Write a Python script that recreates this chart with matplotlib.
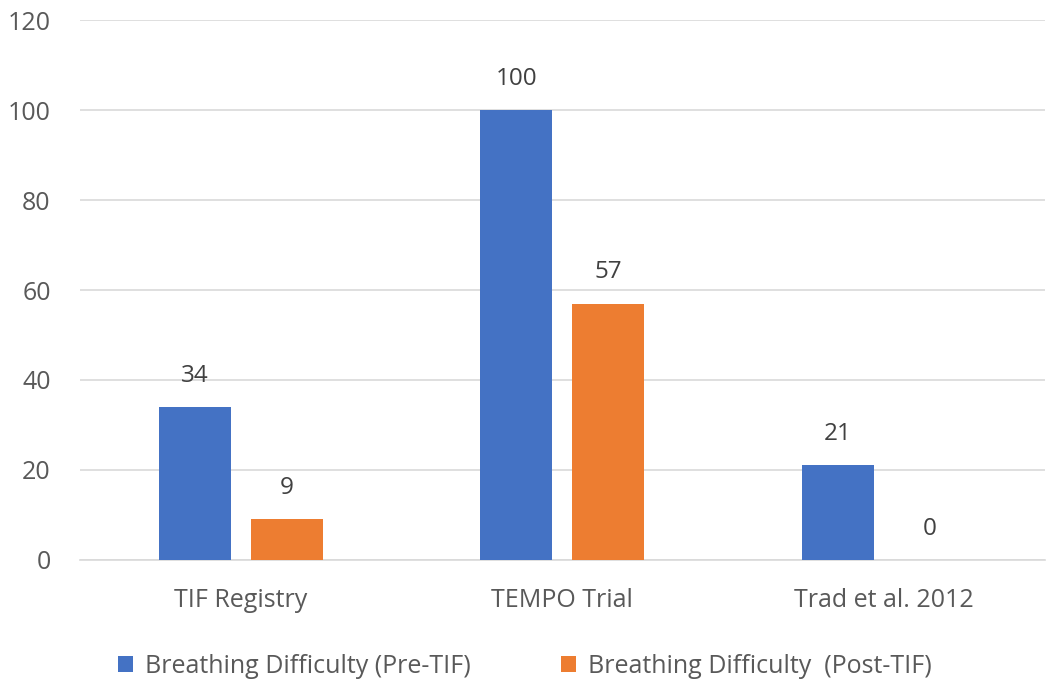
import matplotlib
matplotlib.use("Agg")
import matplotlib.pyplot as plt
import numpy as np

plt.rcParams['font.family'] = ['Open Sans', 'DejaVu Sans']

categories = ["TIF Registry", "TEMPO Trial", "Trad et al. 2012"]
pre_tif = [34, 100, 21]
post_tif = [9, 57, 0]
series_names = ["Breathing Difficulty (Pre-TIF)", "Breathing Difficulty  (Post-TIF)"]
yticks = [0, 20, 40, 60, 80, 100, 120]

text_color = "#595959"
blue = "#4472C4"
orange = "#ED7D31"

fig = plt.figure(figsize=(10.5, 6.93), dpi=100)
ax = fig.add_axes([0.076, 0.192, 0.919, 0.779])

x = np.arange(len(categories))
w = 0.224
off = 0.143
b1 = ax.bar(x - off, pre_tif, w, color=blue, label=series_names[0], zorder=3)
b2 = ax.bar(x + off, post_tif, w, color=orange, label=series_names[1], zorder=3)

for bars in (b1, b2):
    for r in bars:
        h = r.get_height()
        ax.text(r.get_x() + r.get_width() / 2, h + 6.9, "%d" % h,
                ha="center", va="center", fontsize=17.5, color="#404040")

ax.set_xlim(-0.5, 2.5)
ax.set_ylim(0, 120)
ax.set_yticks(yticks)
ax.set_xticks(x)
ax.set_xticklabels(categories)
ax.yaxis.grid(True, color="#d9d9d9", linewidth=1.2, zorder=0)
for s in ["top", "right", "left"]:
    ax.spines[s].set_visible(False)
ax.spines["bottom"].set_color("#d9d9d9")
ax.spines["bottom"].set_linewidth(1.2)
ax.tick_params(axis="both", length=0, labelsize=18, colors=text_color)
ax.tick_params(axis="x", pad=20)
ax.tick_params(axis="y", pad=21)

fig.legend(loc="lower center", bbox_to_anchor=(0.5, -0.012), ncol=2, frameon=False,
           fontsize=18, labelcolor=text_color, handlelength=0.6, handleheight=0.6,
           columnspacing=3.6, handletextpad=0.5)

fig.savefig("out.png", dpi=100)
